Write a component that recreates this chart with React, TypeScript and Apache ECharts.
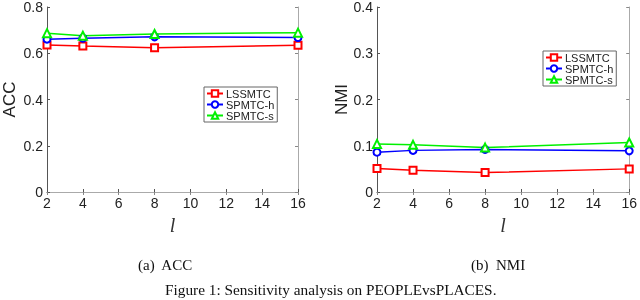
import React, { useEffect, useRef } from "react";
import * as echarts from "echarts";

const lValues = [2, 4, 8, 16];
const seriesNames = ["LSSMTC", "SPMTC-h", "SPMTC-s"];
const accLSSMTC = [0.636, 0.631, 0.624, 0.635];
const accSPMTCh = [0.661, 0.665, 0.671, 0.668];
const accSPMTCs = [0.687, 0.676, 0.683, 0.689];
const nmiLSSMTC = [0.051, 0.047, 0.042, 0.050];
const nmiSPMTCh = [0.086, 0.09, 0.092, 0.089];
const nmiSPMTCs = [0.104, 0.102, 0.096, 0.107];
const colors = ["#ff0000", "#0000ff", "#00f000"];
const symbols = ["emptyRect", "emptyCircle", "emptyTriangle"];

const SANS = "Liberation Sans, Arial, sans-serif";
const SERIF = "Liberation Serif, Times New Roman, serif";

export default function App() {
  const ref = useRef<HTMLDivElement>(null);
  useEffect(() => {
    document.body.style.margin = "0";
    const chart = echarts.init(ref.current!, null, { renderer: "svg" });
    const grids = [
      { left: 43, top: 6, width: 255, height: 186 },
      { left: 377, top: 6, width: 255, height: 186 },
    ];
    const xAxes: any[] = [];
    const yAxes: any[] = [];
    const axisLineDark = { show: true, lineStyle: { color: "#555", width: 1 } };
    const axisLineLight = { show: true, lineStyle: { color: "#aaa", width: 1 } };
    [0, 1].forEach((g) => {
      xAxes.push({
        type: "value", gridIndex: g, min: 2, max: 16, interval: 2, position: "bottom",
        axisLine: axisLineDark,
        axisTick: { show: true, inside: true, length: 3, lineStyle: { color: "#555" } },
        axisLabel: { fontFamily: SANS, fontSize: 14, color: "#222", margin: 4 },
        splitLine: { show: false },
        name: "l", nameLocation: "middle", nameGap: 20,
        nameTextStyle: { fontFamily: SERIF, fontStyle: "italic", fontSize: 20, color: "#333" },
      });
      xAxes.push({
        type: "value", gridIndex: g, min: 2, max: 16, interval: 2, position: "top",
        axisLine: axisLineLight,
        axisTick: { show: true, inside: true, length: 3, lineStyle: { color: "#888" } },
        axisLabel: { show: false }, splitLine: { show: false },
      });
    });
    const yMax = [0.8, 0.4];
    const yInt = [0.2, 0.1];
    const yNames = ["ACC", "NMI"];
    [0, 1].forEach((g) => {
      yAxes.push({
        type: "value", gridIndex: g, min: 0, max: yMax[g], interval: yInt[g], position: "left",
        axisLine: axisLineDark,
        axisTick: { show: true, inside: true, length: 3, lineStyle: { color: "#555" } },
        axisLabel: { fontFamily: SANS, fontSize: 14, color: "#222", margin: 4 },
        splitLine: { show: false },
        name: yNames[g], nameLocation: "middle", nameGap: g === 0 ? 29 : 13,
        nameTextStyle: { fontFamily: SANS, fontSize: 17, color: "#222" },
      });
      yAxes.push({
        type: "value", gridIndex: g, min: 0, max: yMax[g], interval: yInt[g], position: "right",
        axisLine: axisLineLight,
        axisTick: { show: true, inside: true, length: 3, lineStyle: { color: "#888" } },
        axisLabel: { show: false }, splitLine: { show: false },
      });
    });
    const data = [
      [accLSSMTC, accSPMTCh, accSPMTCs],
      [nmiLSSMTC, nmiSPMTCh, nmiSPMTCs],
    ];
    const series: any[] = [];
    [0, 1].forEach((g) => {
      data[g].forEach((vals, i) => {
        series.push({
          type: "line", name: seriesNames[i],
          xAxisIndex: g * 2, yAxisIndex: g * 2,
          data: lValues.map((x, k) => [x, vals[k]]),
          symbol: symbols[i], symbolSize: i === 2 ? 8 : 7,
          lineStyle: { color: colors[i], width: 1.5 },
          itemStyle: { color: colors[i], borderColor: colors[i], borderWidth: 1.3 },
          emphasis: { disabled: true },
        });
      });
    });
    const legendBase = {
      orient: "vertical", itemGap: 0, itemWidth: 16, itemHeight: 8,
      padding: [1, 3, 1, 2], borderColor: "#666", borderWidth: 1,
      backgroundColor: "#fff",
      textStyle: { fontFamily: SANS, fontSize: 11, color: "#222", lineHeight: 11, padding: [0, 0, 0, -2] },
      data: seriesNames,
    };
    chart.setOption({
      animation: false,
      grid: grids,
      xAxis: xAxes,
      yAxis: yAxes,
      series,
      legend: [
        { ...legendBase, left: 204, top: 87 },
        { ...legendBase, left: 543, top: 51 },
      ],
      graphic: [
        { type: "text", left: 138, top: 257, style: { text: "(a)  ACC", font: `15px ${SERIF}`, fill: "#111" } },
        { type: "text", left: 471, top: 257, style: { text: "(b)  NMI", font: `15px ${SERIF}`, fill: "#111" } },
        { type: "text", left: 165, top: 282, style: { text: "Figure 1: Sensitivity analysis on PEOPLEvsPLACES.", font: `15.3px ${SERIF}`, fill: "#111" } },
      ],
    });
    return () => chart.dispose();
  }, []);
  return <div ref={ref} style={{ position: "fixed", left: 0, top: 0, width: 640, height: 300 }} />;
}
